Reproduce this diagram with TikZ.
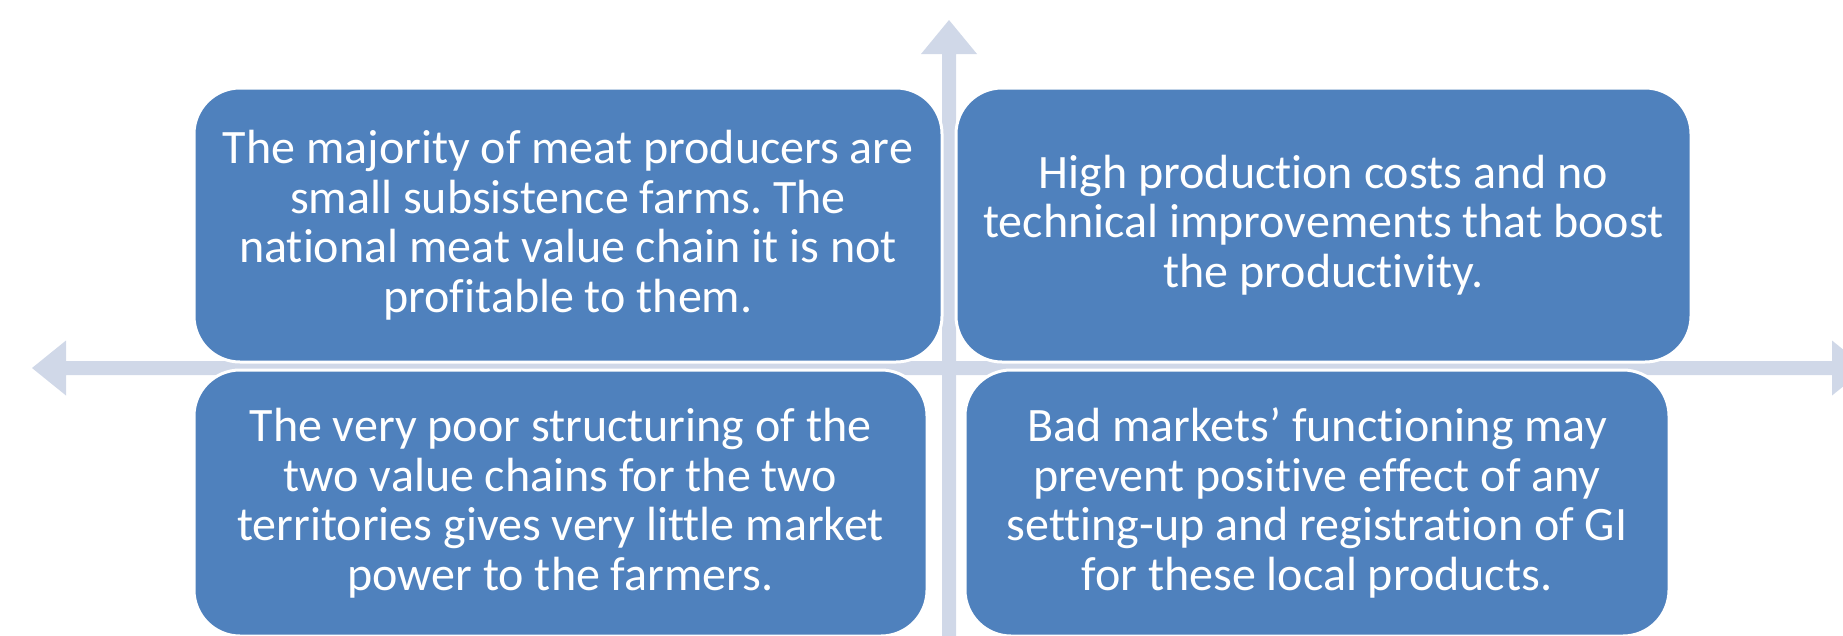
\documentclass[tikz,border=0pt]{standalone}
\usepackage{fontspec}
\setmainfont{Carlito}[Ligatures={NoCommon}]
\frenchspacing
\definecolor{boxblue}{HTML}{4F81BD}
\definecolor{arrowgrey}{HTML}{D0D8E8}
\begin{document}
\begin{tikzpicture}[x=1pt,y=-1pt,
  quad/.style={rectangle, rounded corners=46pt, fill=boxblue, draw=white,
    line width=3pt, text=white, align=center, inner sep=0pt,
    font=\fontsize{48}{49.5}\selectfont\frenchspacing},
  bigarrow/.style={fill=arrowgrey, draw=none}]
\useasboundingbox (0,0) rectangle (1843,635);
\clip (0,0) rectangle (1843,635);
% cross arrows
\path[bigarrow] (32,368) -- (66,340.5) -- (66,361) -- (1832,361) -- (1832,340.5)
  -- (1866,368) -- (1832,395.5) -- (1832,375) -- (66,375) -- (66,395.5) -- cycle;
\path[bigarrow] (949,20) -- (977,54) -- (956,54) -- (956,682) -- (977,682)
  -- (949,716) -- (921,682) -- (942,682) -- (942,54) -- (921,54) -- cycle;
% boxes
\node[quad, minimum width=748pt, minimum height=274pt] (tl) at (568,225)
  {The majority of meat producers are\\small subsistence farms. The\\national meat value chain it is not\\profitable to them.};
\node[quad, minimum width=735pt, minimum height=274pt] (tr) at (1323.5,225)
  {High production costs and no\\technical improvements that boost\\the productivity.};
\node[quad, minimum width=733pt, minimum height=266pt] (bl) at (560.5,503)
  {The very poor structuring of the\\two value chains for the two\\territories gives very little market\\power to the farmers.};
\node[quad, minimum width=704pt, minimum height=266pt] (br) at (1317,503)
  {Bad markets’ functioning may\\prevent positive effect of any\\setting-up and registration of GI\\for these local products.};
\end{tikzpicture}
\end{document}
